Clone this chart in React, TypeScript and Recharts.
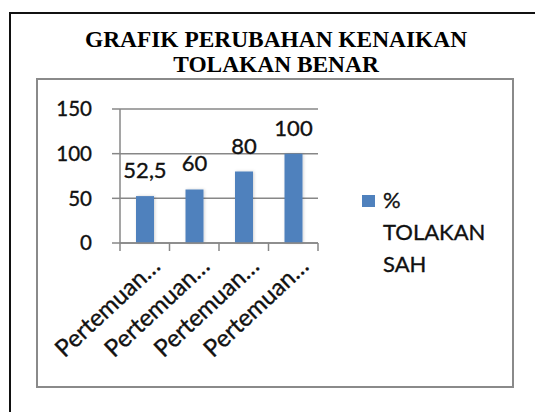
import { BarChart, Bar, XAxis, YAxis, CartesianGrid, Legend, LabelList } from "recharts";

const categories = ["Pertemuan 1", "Pertemuan 2", "Pertemuan 3", "Pertemuan 4"];
const tolakanSah = [52.5, 60, 80, 100];
const yTicks = [0, 50, 100, 150];
const seriesName = "% TOLAKAN SAH";
const titleLines = ["GRAFIK PERUBAHAN KENAIKAN", "TOLAKAN BENAR"];

const data = categories.map((name, i) => ({ name, value: tolakanSah[i] }));

const FONT = "Lato, 'Open Sans', sans-serif";
const GRID = "#878787";
const BLUE = "#4F81BD";
const INK = "#111";

// excel style: tick marks between categories, label cut off with an ellipsis
const XTick = (props: any) => {
  const { x, y, payload, index } = props;
  const half = payload?.offset || 24.75;
  const label = String(payload.value).split(" ")[0] + "…";
  const ax = x + 17;
  const ay = y + 25;
  return (
    <g>
      <line x1={x - half} y1={y} x2={x - half} y2={y + 8} stroke={GRID} strokeWidth={1.5} />
      {index === categories.length - 1 && (
        <line x1={x + half} y1={y} x2={x + half} y2={y + 8} stroke={GRID} strokeWidth={1.5} />
      )}
      <text
        x={ax}
        y={ay}
        textAnchor="end"
        transform={`rotate(-43, ${ax}, ${ay})`}
        fontFamily={FONT}
        fontSize={24}
        fill={INK}
        stroke={INK}
        strokeWidth={0.35}
      >
        {label}
      </text>
    </g>
  );
};

const renderLegend = (props: any) => {
  const item = props.payload?.[0];
  const words = seriesName.split(" ");
  return (
    <svg width={150} height={100}>
      <rect x={0} y={16} width={13} height={12} fill={item?.color || BLUE} />
      {words.map((w, i) => (
        <text
          key={w}
          x={21}
          y={29 + i * 32}
          fontFamily={FONT}
          fontSize={22}
          fill={INK}
          stroke={INK}
          strokeWidth={0.35}
        >
          {w}
        </text>
      ))}
    </svg>
  );
};

export default function App() {
  return (
    <div
      style={{
        position: "absolute",
        left: 0,
        top: 0,
        width: 535,
        height: 412,
        overflow: "hidden",
        background: "#fff",
      }}
    >
      <div
        style={{
          position: "absolute",
          left: 9,
          top: 12,
          width: 600,
          height: 500,
          borderTop: "2px solid #111",
          borderLeft: "2px solid #111",
        }}
      />
      <div
        style={{
          position: "absolute",
          left: 0,
          top: 27,
          width: 552,
          textAlign: "center",
          fontFamily: "'Liberation Serif', 'Times New Roman', serif",
          fontWeight: "bold",
          fontSize: 23.4,
          lineHeight: "25px",
          color: "#000",
        }}
      >
        {titleLines.map((t) => (
          <div key={t}>{t}</div>
        ))}
      </div>
      <div
        style={{
          position: "absolute",
          left: 36,
          top: 78,
          width: 478,
          height: 310,
          boxSizing: "border-box",
          border: "2px solid #8a8a8a",
        }}
      />
      <div style={{ position: "absolute", left: 0, top: 0 }}>
        <BarChart
          width={535}
          height={412}
          data={data}
          margin={{ top: 109, right: 217, bottom: 69, left: 0 }}
        >
          <defs>
            <filter id="barShadow" x="-30%" y="-10%" width="160%" height="120%">
              <feDropShadow dx="1" dy="0" stdDeviation="1.5" floodColor="#000" floodOpacity="0.18" />
            </filter>
          </defs>
          <CartesianGrid vertical={false} stroke={GRID} strokeWidth={1.5} />
          <XAxis
            dataKey="name"
            height={100}
            interval={0}
            stroke={GRID}
            strokeWidth={1.5}
            tickLine={false}
            tickSize={0}
            tickMargin={0}
            tick={<XTick />}
          />
          <YAxis
            width={120}
            domain={[0, 150]}
            ticks={yTicks}
            interval={0}
            stroke={GRID}
            strokeWidth={1.5}
            tickSize={8}
            tickMargin={20}
            tick={{ fill: INK, stroke: INK, strokeWidth: 0.35, fontSize: 20.5, fontFamily: FONT }}
          />
          <Legend
            layout="horizontal"
            verticalAlign="middle"
            align="center"
            wrapperStyle={{ left: 362, top: 179, width: 150 }}
            content={renderLegend}
          />
          <Bar
            dataKey="value"
            name={seriesName}
            fill={BLUE}
            barSize={18}
            filter="url(#barShadow)"
            isAnimationActive={false}
          >
            <LabelList
              dataKey="value"
              position="top"
              offset={18}
              formatter={(v: any) => String(v).replace(".", ",")}
              fill={INK}
              stroke={INK}
              strokeWidth={0.35}
              fontSize={22}
              fontFamily={FONT}
            />
          </Bar>
        </BarChart>
      </div>
    </div>
  );
}
